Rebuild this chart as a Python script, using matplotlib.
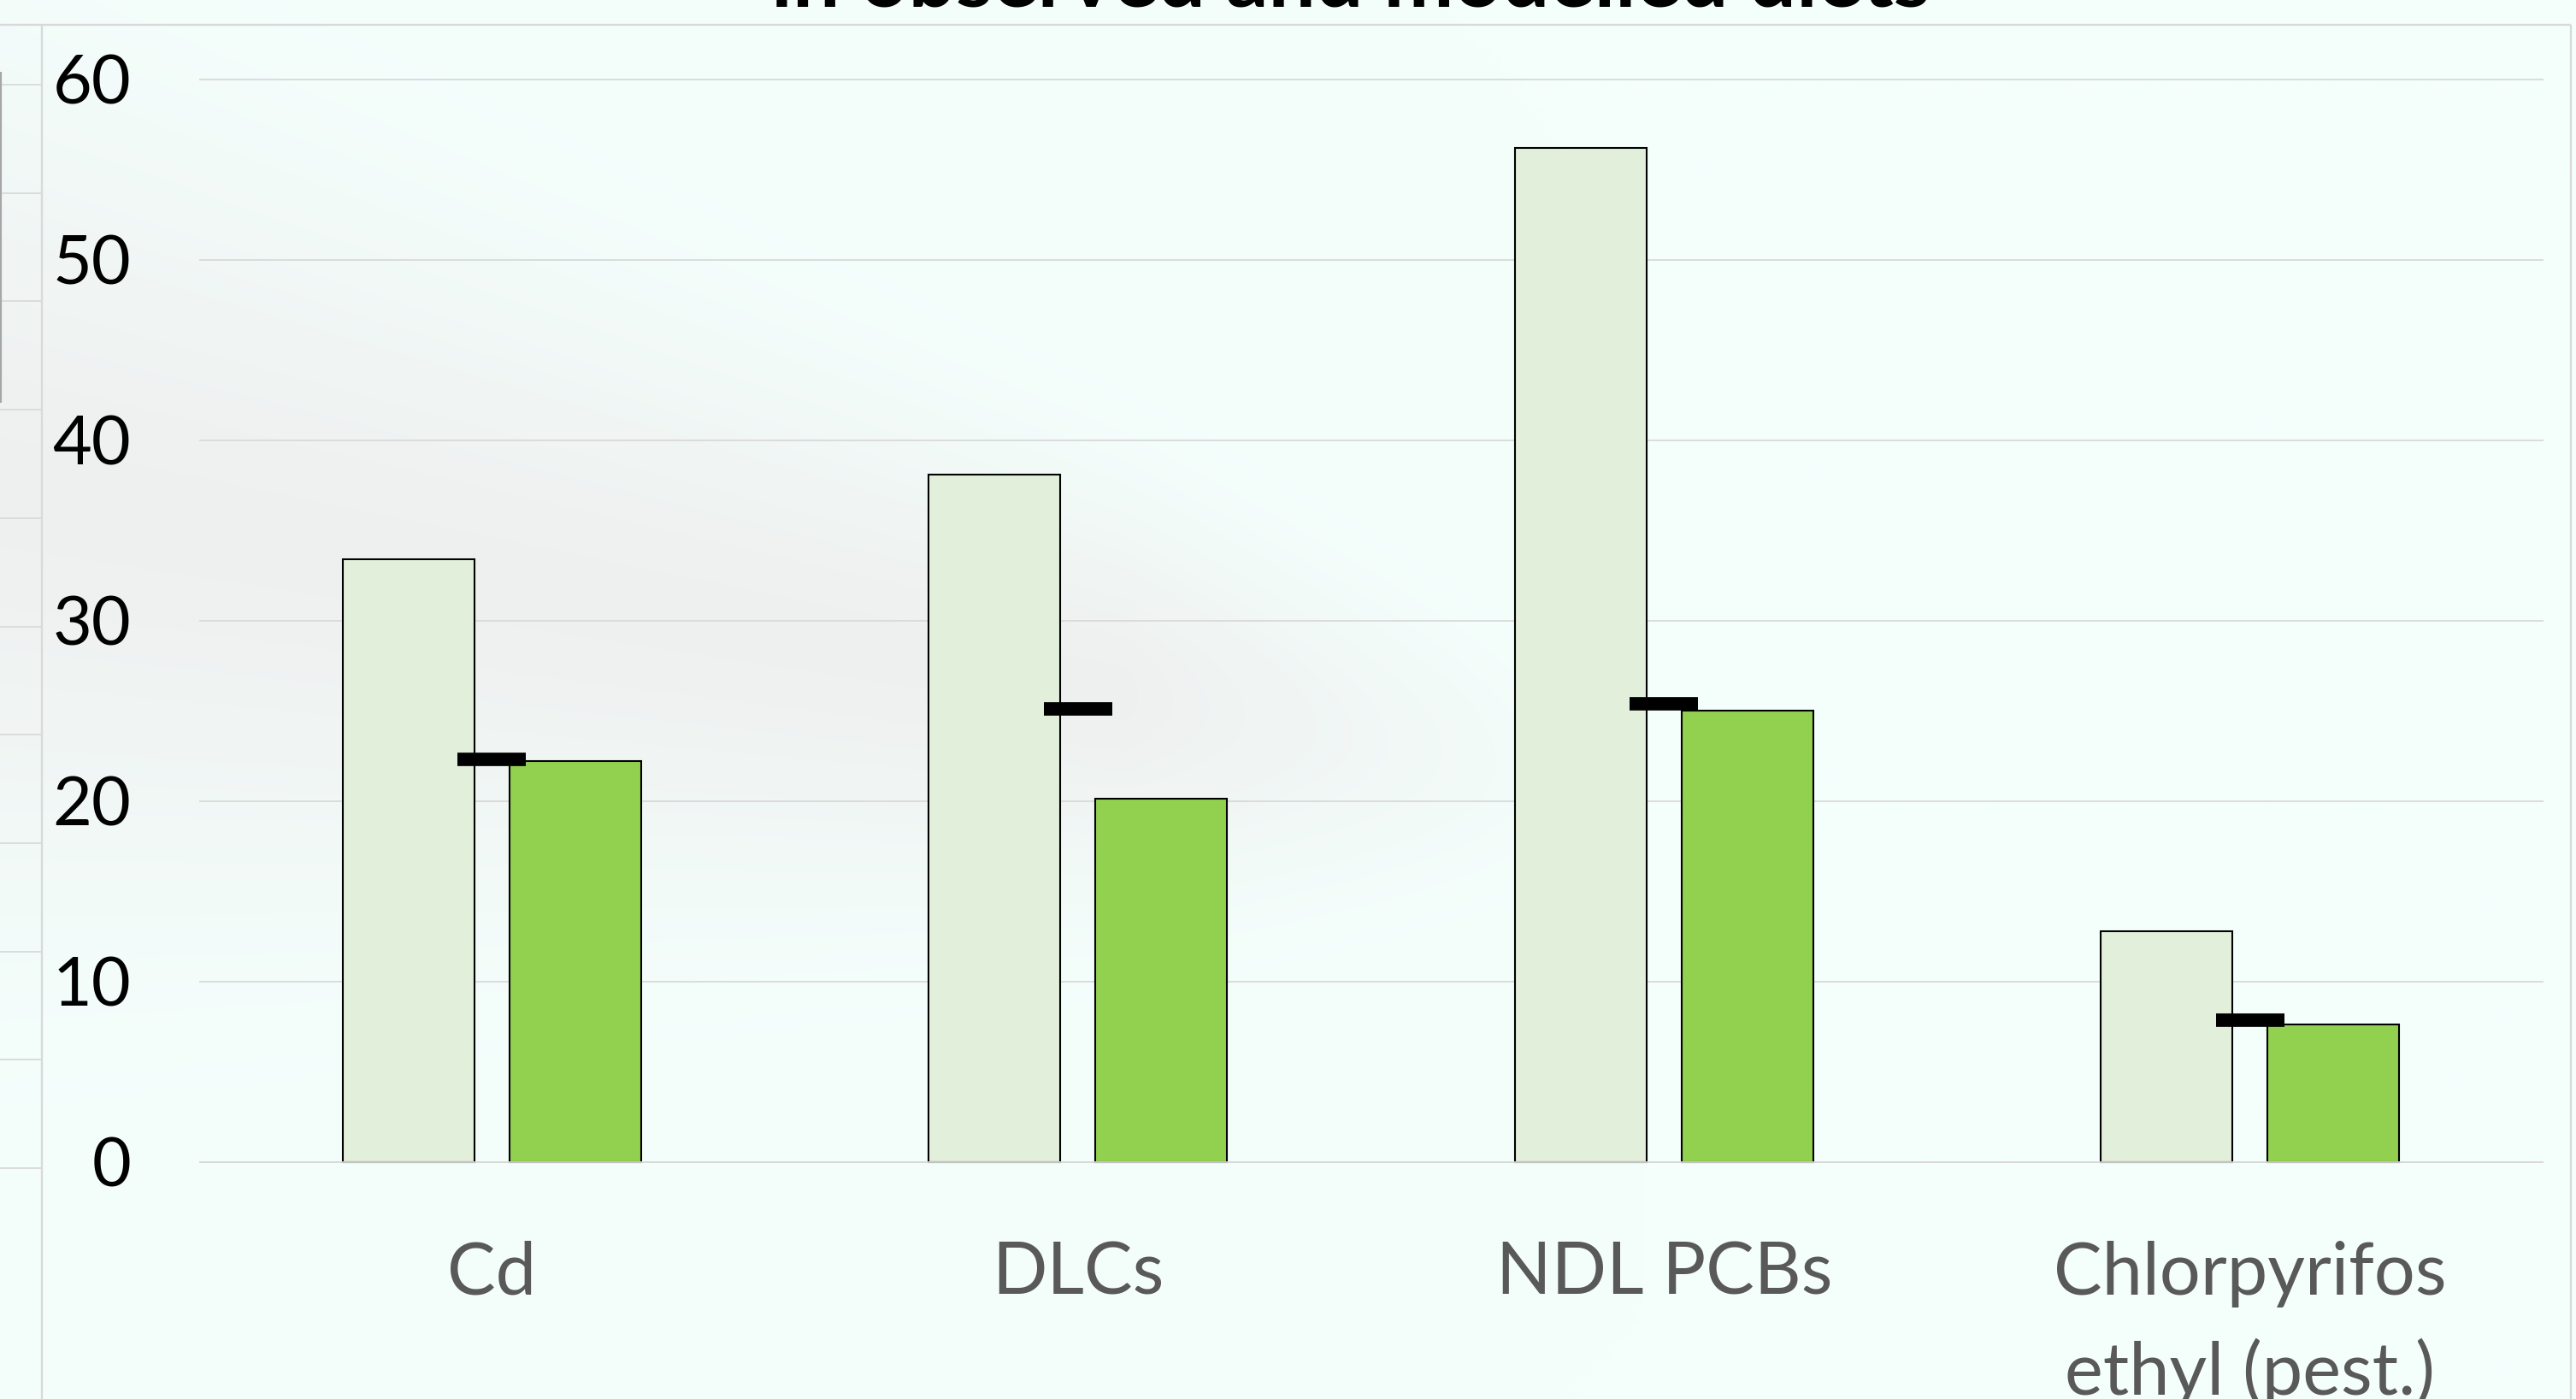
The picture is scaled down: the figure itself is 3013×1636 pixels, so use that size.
import numpy as np
import matplotlib
matplotlib.use("Agg")
import matplotlib.pyplot as plt
from matplotlib.transforms import blended_transform_factory

# ---------------- data ----------------
categories = ["Cd", "DLCs", "NDL PCBs", "Chlorpyrifos\nethyl (pest.)"]
observed = [33.4, 38.1, 56.2, 12.8]
modelled = [22.2, 20.1, 25.0, 7.6]
reference_mark = [22.3, 25.1, 25.4, 7.85]
y_ticks = [0, 10, 20, 30, 40, 50, 60]
title_text = "in observed and modelled diets"

# ---------------- figure ----------------
W, H = 3013, 1636
DPI = 100
plt.rcParams['font.family'] = ['Lato', 'DejaVu Sans']
fig = plt.figure(figsize=(W / DPI, H / DPI), dpi=DPI)
BG = np.array([244, 255, 252]) / 255.0
fig.patch.set_facecolor(BG)

# background decoration axes (pixel coordinates, y downward)
bg = fig.add_axes([0, 0, 1, 1], zorder=0)
bg.set_xlim(0, W)
bg.set_ylim(H, 0)
bg.axis('off')

# faint blurred swoosh in background
step = 8
xs = np.arange(0, W, step) + step / 2
ys = np.arange(0, H, step) + step / 2
X, Y = np.meshgrid(xs, ys)
yc = 576 + 0.18 * X
hw = np.clip(442 - 0.17 * X, 60, None)
fade = np.clip((1920 - X) / 600.0, 0, 1)
alpha = 0.65 * np.exp(-((Y - yc) / hw) ** 2) * fade
swoosh_col = np.array([236, 233, 234]) / 255.0
img = BG[None, None, :] * (1 - alpha[..., None]) + swoosh_col[None, None, :] * alpha[..., None]
bg.imshow(img, extent=(0, W, H, 0), interpolation='bilinear', aspect='auto', zorder=0)

border_col = '#D9D9D9'
bg.plot([0, 3007], [28.5, 28.5], color=border_col, lw=1.7, zorder=1, solid_capstyle='butt')
bg.plot([49, 49], [28.5, H], color=border_col, lw=1.7, zorder=1, solid_capstyle='butt')
bg.plot([3007, 3007], [28.5, H], color=border_col, lw=1.7, zorder=1, solid_capstyle='butt')
for k in range(11):
    yy = 99 + 126.7 * k
    bg.plot([0, 48], [yy, yy], color=border_col, lw=1.3, zorder=1, solid_capstyle='butt')
bg.plot([1, 1], [84, 471], color='#A6A6A6', lw=1.6, zorder=1, solid_capstyle='butt')

# ---------------- main chart ----------------
px_per_unit = 21.1
zero_px = 1358.6
left_px, right_px = 232.5, 2974.6
ymin, ymax = -0.5, 62
bottom_px = zero_px - ymin * px_per_unit
top_px = zero_px - ymax * px_per_unit
ax = fig.add_axes([left_px / W, 1 - bottom_px / H, (right_px - left_px) / W, (bottom_px - top_px) / H], zorder=1)
ax.patch.set_alpha(0)
ax.set_xlim(-0.5, 3.5)
ax.set_ylim(ymin, ymax)
for s in ax.spines.values():
    s.set_visible(False)

ax.set_yticks(y_ticks)
ax.yaxis.grid(True, color=border_col, lw=1.3)
ax.set_axisbelow(True)
ax.tick_params(axis='y', length=0, pad=57, labelsize=57, labelcolor='black')
ax.set_xticks([])

x = np.arange(len(categories))
bw = 0.2245
off = 0.1423
ax.bar(x - off, observed, width=bw, color='#E2EFDA', edgecolor='black', linewidth=1.5, zorder=2)
ax.bar(x + off, modelled, width=bw, color='#92D050', edgecolor='black', linewidth=1.5, zorder=2)
ax.axhline(0, color=border_col, lw=1.3, zorder=3)
mw = 0.117
lc = ax.hlines(reference_mark, x - mw / 2, x + mw / 2, colors='black', lw=11.3, zorder=4)
lc.set_capstyle('butt')

# category labels
trans = blended_transform_factory(ax.transData, fig.transFigure)
base1 = 1514.0
line_gap = 117.0
for i, lab in enumerate(categories):
    for j, line in enumerate(lab.split("\n")):
        ax.text(x[i], 1 - (base1 + j * line_gap) / H, line, transform=trans,
                ha='center', va='baseline', fontsize=61, color='#595959', clip_on=False)

# title (cut off at the top of the picture, as in the source)
t = fig.text(1580 / W, 1 - 7 / H, title_text, ha='center', va='baseline',
             fontsize=60, fontweight='bold', color='black')
fig.canvas.draw()
wpx = t.get_window_extent().width
t.set_fontsize(60 * 1355.0 / wpx)

fig.savefig("out.png", dpi=DPI, facecolor=fig.get_facecolor())
